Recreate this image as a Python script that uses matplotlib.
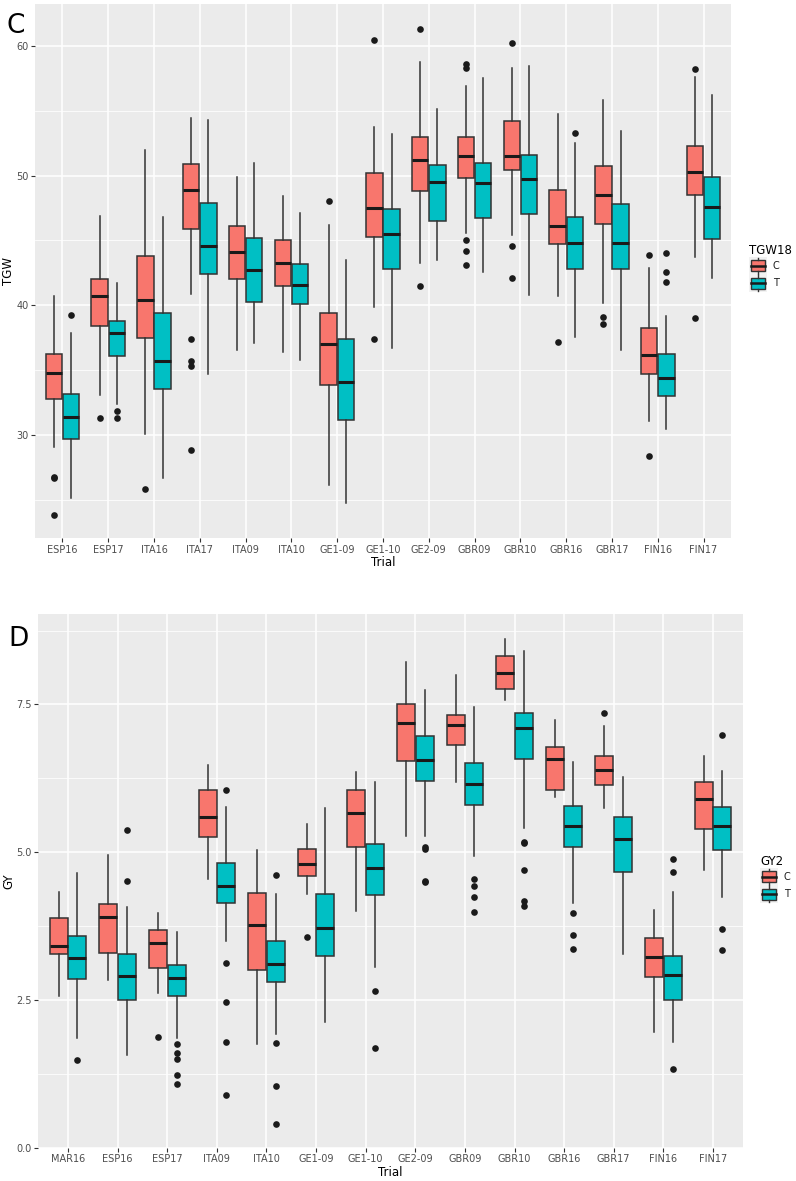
import matplotlib
matplotlib.use("Agg")
import matplotlib.pyplot as plt
import numpy as np
from matplotlib.patches import Rectangle, Patch
from matplotlib.lines import Line2D
from matplotlib.legend_handler import HandlerBase

# ---- panel C: TGW ----
tgw_trials = ["ESP16", "ESP17", "ITA16", "ITA17", "ITA09", "ITA10", "GE1-09", "GE1-10",
              "GE2-09", "GBR09", "GBR10", "GBR16", "GBR17", "FIN16", "FIN17"]
tgw_C_lo = [29.1, 33.1, 30.1, 40.9, 36.6, 36.4, 26.2, 39.9, 43.3, 45.6, 45.4, 40.7, 40.2, 31.1, 43.7]
tgw_C_q1 = [32.8, 38.4, 37.5, 45.9, 42.0, 41.5, 33.9, 45.3, 48.8, 49.8, 50.4, 44.7, 46.3, 34.7, 48.5]
tgw_C_med = [34.8, 40.7, 40.4, 48.9, 44.1, 43.3, 37.0, 47.5, 51.2, 51.5, 51.5, 46.1, 48.5, 36.2, 50.3]
tgw_C_q3 = [36.3, 42.0, 43.8, 50.9, 46.1, 45.0, 39.4, 50.2, 53.0, 53.0, 54.2, 48.9, 50.7, 38.3, 52.3]
tgw_C_hi = [40.7, 46.9, 52.0, 54.4, 49.9, 48.4, 46.2, 53.7, 58.7, 56.9, 58.3, 54.7, 55.8, 42.9, 57.6]
tgw_C_out = [[26.8, 26.7, 23.9], [31.3], [25.9], [37.4, 35.7, 35.3, 28.9], [], [], [48.0],
             [60.4, 37.4], [61.3, 41.5], [58.6, 58.3, 45.0, 44.2, 43.1], [60.2, 44.6, 42.1],
             [37.2], [39.1, 38.6], [43.9, 28.4], [58.2, 39.0]]
tgw_T_lo = [25.2, 32.4, 26.7, 34.7, 37.1, 35.8, 24.8, 36.7, 43.5, 42.6, 40.8, 37.6, 36.6, 30.5, 42.1]
tgw_T_q1 = [29.7, 36.1, 33.6, 42.4, 40.3, 40.1, 31.2, 42.8, 46.5, 46.7, 47.0, 42.8, 42.8, 33.0, 45.1]
tgw_T_med = [31.4, 37.9, 35.7, 44.6, 42.7, 41.6, 34.1, 45.5, 49.5, 49.4, 49.7, 44.8, 44.8, 34.4, 47.6]
tgw_T_q3 = [33.2, 38.8, 39.4, 47.9, 45.2, 43.2, 37.4, 47.4, 50.8, 51.0, 51.6, 46.8, 47.8, 36.3, 49.9]
tgw_T_hi = [37.9, 41.7, 46.8, 54.3, 51.0, 47.1, 43.5, 53.2, 55.1, 57.5, 58.4, 52.5, 53.4, 39.2, 56.2]
tgw_T_out = [[39.3], [31.9, 31.3], [], [], [], [], [], [], [], [], [], [53.3], [],
             [44.0, 42.6, 41.8], []]

# ---- panel D: GY ----
gy_trials = ["MAR16", "ESP16", "ESP17", "ITA09", "ITA10", "GE1-09", "GE1-10", "GE2-09",
             "GBR09", "GBR10", "GBR16", "GBR17", "FIN16", "FIN17"]
gy_C_lo = [2.57, 2.83, 2.62, 4.54, 1.76, 4.30, 4.01, 5.28, 6.19, 7.57, 5.94, 5.74, 1.96, 4.70]
gy_C_q1 = [3.28, 3.30, 3.04, 5.25, 3.01, 4.60, 5.08, 6.54, 6.82, 7.76, 6.05, 6.14, 2.88, 5.39]
gy_C_med = [3.42, 3.90, 3.46, 5.60, 3.76, 4.80, 5.66, 7.19, 7.16, 8.04, 6.58, 6.39, 3.23, 5.90]
gy_C_q3 = [3.88, 4.12, 3.68, 6.05, 4.31, 5.05, 6.05, 7.50, 7.32, 8.32, 6.78, 6.63, 3.54, 6.19]
gy_C_hi = [4.32, 4.96, 3.97, 6.48, 5.03, 5.48, 6.35, 8.21, 7.99, 8.61, 7.24, 7.14, 4.02, 6.62]
gy_C_out = [[], [], [1.88], [], [], [3.56], [], [], [], [], [], [7.36], [], []]
gy_T_lo = [1.86, 1.56, 1.86, 3.50, 1.92, 2.12, 3.05, 5.27, 4.94, 5.41, 4.14, 3.28, 1.79, 4.24]
gy_T_q1 = [2.85, 2.50, 2.57, 4.14, 2.80, 3.24, 4.28, 6.21, 5.79, 6.57, 5.09, 4.66, 2.50, 5.03]
gy_T_med = [3.21, 2.90, 2.87, 4.43, 3.11, 3.71, 4.74, 6.56, 6.16, 7.10, 5.45, 5.22, 2.93, 5.45]
gy_T_q3 = [3.59, 3.27, 3.09, 4.81, 3.49, 4.29, 5.14, 6.96, 6.51, 7.36, 5.78, 5.60, 3.24, 5.76]
gy_T_hi = [4.64, 4.07, 3.65, 5.77, 4.30, 5.75, 6.18, 7.74, 7.45, 8.40, 6.52, 6.27, 4.33, 6.38]
gy_T_out = [[1.48], [5.38, 4.52], [1.76, 1.61, 1.50, 1.23, 1.07], [6.05, 3.12, 2.47, 1.78, 0.89],
            [4.61, 1.77, 1.04, 0.40], [], [2.65, 1.69], [5.09, 5.05, 4.52, 4.50],
            [4.55, 4.43, 4.24, 3.98], [5.17, 5.15, 4.70, 4.17, 4.09], [3.97, 3.60, 3.37], [],
            [4.88, 4.67, 1.33], [6.98, 3.70, 3.35]]

RED = "#F8766D"
CYAN = "#00BFC4"
DARK = "#333333"


def make_stats(lo, q1, med, q3, hi, out):
    return [dict(whislo=a, q1=b, med=c, q3=d, whishi=e, fliers=f)
            for a, b, c, d, e, f in zip(lo, q1, med, q3, hi, out)]


def draw_boxes(ax, stats, positions, color):
    ax.bxp(stats, positions=positions, widths=0.36, patch_artist=True, showcaps=False,
           boxprops=dict(facecolor=color, edgecolor=DARK, linewidth=1.1),
           medianprops=dict(color="#1A1A1A", linewidth=2.2, solid_capstyle="butt"),
           whiskerprops=dict(color=DARK, linewidth=1.1),
           flierprops=dict(marker="o", markerfacecolor="#1A1A1A", markeredgecolor="none",
                           markersize=4.8))


def style_axis(ax, n, labels, ylim, major, minor, fmt):
    ax.set_facecolor("#EBEBEB")
    for s in ax.spines.values():
        s.set_visible(False)
    ax.set_xlim(0.4, n + 0.6)
    ax.set_ylim(*ylim)
    ax.set_xticks(np.arange(1, n + 1))
    ax.set_xticklabels(labels)
    ax.set_yticks(major)
    ax.set_yticklabels([fmt.format(v) for v in major])
    ax.set_yticks(minor, minor=True)
    ax.grid(True, which="major", color="white", linewidth=1.1)
    ax.grid(True, which="minor", axis="y", color="white", linewidth=0.55)
    ax.set_axisbelow(True)
    ax.tick_params(which="major", length=2.8, width=0.8, color=DARK,
                   labelcolor="#4D4D4D", labelsize=7, pad=2)
    ax.tick_params(which="minor", length=0)
    ax.set_xlabel("Trial", fontsize=8.5, labelpad=1)


class BoxKey(HandlerBase):
    def create_artists(self, legend, orig_handle, xdescent, ydescent, width, height,
                       fontsize, trans):
        x0, y0 = -xdescent, -ydescent
        bg = Rectangle((x0, y0), width, height, facecolor="#F2F2F2", edgecolor="none",
                       transform=trans)
        box = Rectangle((x0 + 0.12 * width, y0 + 0.18 * height), 0.76 * width, 0.64 * height,
                        facecolor=orig_handle.get_facecolor(), edgecolor=DARK,
                        linewidth=1.0, transform=trans)
        cx = x0 + width / 2
        w1 = Line2D([cx, cx], [y0 + 0.04 * height, y0 + 0.18 * height], color=DARK,
                    linewidth=1.0, transform=trans)
        w2 = Line2D([cx, cx], [y0 + 0.82 * height, y0 + 0.96 * height], color=DARK,
                    linewidth=1.0, transform=trans)
        md = Line2D([x0 + 0.12 * width, x0 + 0.88 * width], [y0 + 0.5 * height] * 2,
                    color="#1A1A1A", linewidth=1.8, transform=trans)
        return [bg, box, w1, w2, md]


def add_legend(ax, title, x, y):
    handles = [Patch(facecolor=RED), Patch(facecolor=CYAN)]
    leg = ax.legend(handles, ["C", "T"], title=title, loc="upper left",
                    bbox_to_anchor=(x, y), bbox_transform=fig.transFigure,
                    frameon=False, borderpad=0, borderaxespad=0,
                    handlelength=1.85, handleheight=2.4,
                    labelspacing=0.0, handletextpad=0.6, fontsize=7,
                    title_fontsize=8.5, alignment="left",
                    handler_map={Patch: BoxKey()})
    for t in leg.get_texts():
        t.set_color("#1A1A1A")


W, H = 796, 1181
fig = plt.figure(figsize=(W / 100, H / 100), dpi=100)

axC = fig.add_axes([35 / W, 1 - 538 / H, 696 / W, 534 / H])
axD = fig.add_axes([38.3 / W, 1 - 1147.7 / H, 704.4 / W, 533.7 / H])

nC = len(tgw_trials)
posC = np.arange(1, nC + 1)
draw_boxes(axC, make_stats(tgw_C_lo, tgw_C_q1, tgw_C_med, tgw_C_q3, tgw_C_hi, tgw_C_out),
           posC - 0.1875, RED)
draw_boxes(axC, make_stats(tgw_T_lo, tgw_T_q1, tgw_T_med, tgw_T_q3, tgw_T_hi, tgw_T_out),
           posC + 0.1875, CYAN)
style_axis(axC, nC, tgw_trials, (22.1, 63.2), [30, 40, 50, 60], [25, 35, 45, 55], "{:.0f}")
axC.set_ylabel("TGW", fontsize=8.5, labelpad=0.5)

nD = len(gy_trials)
posD = np.arange(1, nD + 1)
draw_boxes(axD, make_stats(gy_C_lo, gy_C_q1, gy_C_med, gy_C_q3, gy_C_hi, gy_C_out),
           posD - 0.1875, RED)
draw_boxes(axD, make_stats(gy_T_lo, gy_T_q1, gy_T_med, gy_T_q3, gy_T_hi, gy_T_out),
           posD + 0.1875, CYAN)
style_axis(axD, nD, gy_trials, (0.0, 9.03), [0.0, 2.5, 5.0, 7.5], [1.25, 3.75, 6.25, 8.75],
           "{:.1f}")
axD.set_ylabel("GY", fontsize=8.5, labelpad=0.5)

add_legend(axC, "TGW18", 749 / W, 1 - 244 / H)
add_legend(axD, "GY2", 760 / W, 1 - 855 / H)

fig.text(7 / W, 1 - 33 / H, "C", fontsize=19, va="baseline", ha="left")
fig.text(8 / W, 1 - 646 / H, "D", fontsize=19, va="baseline", ha="left")

fig.savefig("out.png", dpi=100, facecolor="white")
